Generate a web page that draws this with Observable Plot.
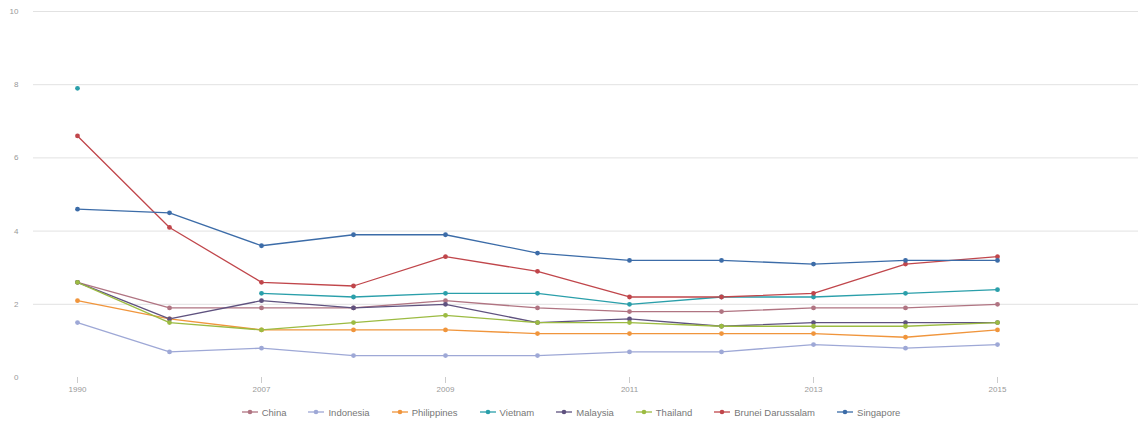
<!DOCTYPE html>
<html><head><meta charset="utf-8">
<script src="https://cdn.jsdelivr.net/npm/d3@7"></script>
<script src="https://cdn.jsdelivr.net/npm/@observablehq/plot@0.6"></script>
<style>
body{margin:0;background:#fff;font-family:"Liberation Sans",Arial,sans-serif}
#legend{display:flex;justify-content:center;gap:22px;font-size:9.5px;color:#777;height:24px;align-items:center;margin-top:2px}
#legend .it{display:flex;align-items:center;gap:4px}
</style></head><body><div id="chart"></div><div id="legend"></div>
<script>
const years = ["1990","2006","2007","2008","2009","2010","2011","2012","2013","2014","2015"];
const tickLabels = ["1990","2007","2009","2011","2013","2015"];
const yTicks = [0,2,4,6,8,10];
const countries = ["China","Indonesia","Philippines","Vietnam","Malaysia","Thailand","Brunei Darussalam","Singapore"];
const colors = ["#b07482","#9ea8d6","#f0953c","#2a9faa","#5f527f","#9cbb42","#c0464b","#3c6ca8"];
const china       = [2.6,1.9,1.9,1.9,2.1,1.9,1.8,1.8,1.9,1.9,2.0];
const indonesia   = [1.5,0.7,0.8,0.6,0.6,0.6,0.7,0.7,0.9,0.8,0.9];
const philippines = [2.1,1.6,1.3,1.3,1.3,1.2,1.2,1.2,1.2,1.1,1.3];
const vietnam     = [7.9,null,2.3,2.2,2.3,2.3,2.0,2.2,2.2,2.3,2.4];
const malaysia    = [2.6,1.6,2.1,1.9,2.0,1.5,1.6,1.4,1.5,1.5,1.5];
const thailand    = [2.6,1.5,1.3,1.5,1.7,1.5,1.5,1.4,1.4,1.4,1.5];
const brunei      = [6.6,4.1,2.6,2.5,3.3,2.9,2.2,2.2,2.3,3.1,3.3];
const singapore   = [4.6,4.5,3.6,3.9,3.9,3.4,3.2,3.2,3.1,3.2,3.2];
const series = [china,indonesia,philippines,vietnam,malaysia,thailand,brunei,singapore];

const data = [];
countries.forEach((c,i)=>series[i].forEach((v,j)=>data.push({country:c,year:years[j],value:v})));

const chart = Plot.plot({
  width:1142, height:398,
  marginLeft:33, marginRight:4, marginTop:11, marginBottom:21,
  style:{fontFamily:"'Liberation Sans',Arial,sans-serif", fontSize:"8px", color:"#999", background:"#fff"},
  x:{type:"point", domain:years, range:[77,997], padding:0, label:null},
  y:{domain:[0,10], label:null},
  color:{domain:countries, range:colors},
  marks:[
    Plot.ruleY(yTicks.filter(d=>d>0), {stroke:"#e2e2e2", strokeWidth:1}),
    Plot.axisY({ticks:yTicks, tickSize:0, tickPadding:15, label:null, fill:"#999"}),
    Plot.axisX({ticks:tickLabels, tickSize:6, tickPadding:3, label:null, stroke:"#ccc", fill:"#999"}),
    Plot.line(data, {x:"year", y:"value", z:"country", stroke:"country", strokeWidth:1.3}),
    Plot.dot(data, {x:"year", y:"value", fill:"country", r:2.4})
  ]
});
document.getElementById("chart").appendChild(chart);

const lg = document.getElementById("legend");
countries.forEach((c,i)=>{
  const it = document.createElement("div");
  it.className = "it";
  it.innerHTML = `<svg width="16" height="8"><line x1="0" y1="4" x2="16" y2="4" stroke="${colors[i]}" stroke-width="1.3"/><circle cx="8" cy="4" r="2.3" fill="${colors[i]}"/></svg><span>${c}</span>`;
  lg.appendChild(it);
});
</script>
</body></html>
